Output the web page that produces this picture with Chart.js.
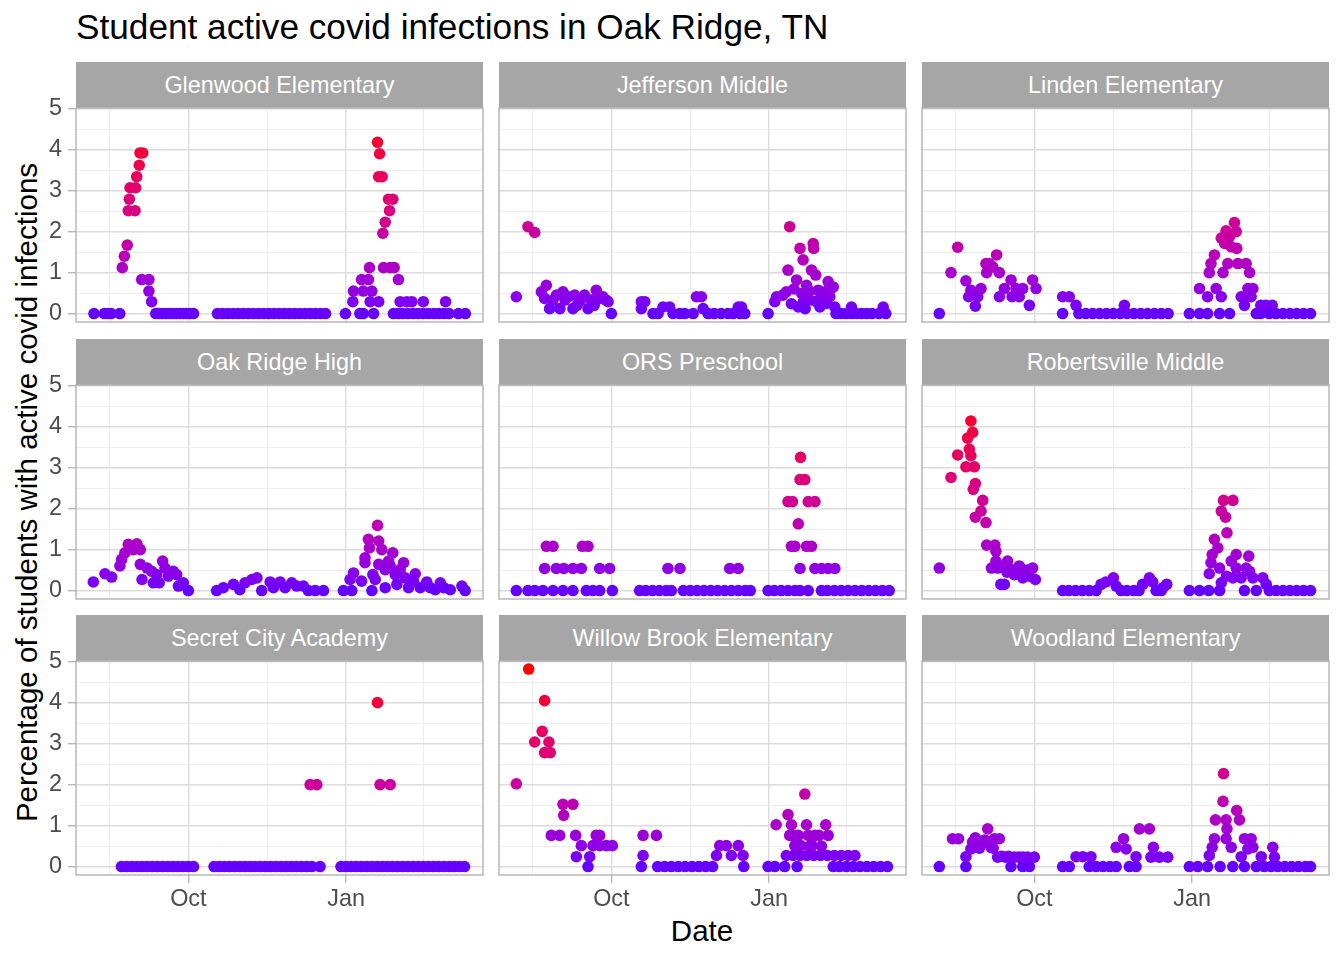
<!DOCTYPE html>
<html><head><meta charset="utf-8">
<script src="https://cdn.jsdelivr.net/npm/chart.js@4.4.1/dist/chart.umd.min.js"></script>
<style>
html,body{margin:0;padding:0;background:#fff;}
body{width:1344px;height:960px;position:relative;overflow:hidden;font-family:"Liberation Sans",Arial,Helvetica,sans-serif;}
.strip{position:absolute;background:#A6A6A6;color:#fff;font-size:23.4px;display:flex;align-items:center;justify-content:center;white-space:nowrap;}
canvas{position:absolute;}
#title{position:absolute;left:76px;top:9px;font-size:35.2px;line-height:35px;color:#000;white-space:nowrap;}
#xtitle{position:absolute;left:402px;width:600px;top:916px;font-size:29.5px;line-height:29px;text-align:center;color:#000;}
#ytitle{position:absolute;left:-324px;width:700px;top:478px;height:29px;font-size:29.5px;line-height:29px;text-align:center;color:#000;transform:rotate(-90deg);transform-origin:50% 50%;white-space:nowrap;}
</style></head><body>
<div id="title">Student active covid infections in Oak Ridge, TN</div>
<div id="xtitle">Date</div>
<div id="ytitle">Percentage of students with active covid infections</div>
<script>
// x values are days relative to 1 Oct 2021; y values are % of students with active infections
const schools = ["Glenwood Elementary","Jefferson Middle","Linden Elementary","Oak Ridge High","ORS Preschool","Robertsville Middle","Secret City Academy","Willow Brook Elementary","Woodland Elementary"];

const glenwood = [[-55,0],[-49,0],[-47,0],[-45,0],[-40,0],
[-38.5,1.12],[-37.3,1.40],[-35.6,1.67],[-35,2.51],[-31.1,2.51],[-34.4,2.79],[-34,3.07],[-30.7,3.07],[-30.1,3.34],[-28.6,3.62],[-28.2,3.92],[-26.6,3.92],
[-27.2,0.83],[-23,0.83],[-23,0.55],[-21.4,0.29],
[-19,0],[-17,0],[-15,0],[-13,0],[-11,0],[-9,0],[-7,0],[-5,0],[-3,0],[-1,0],[1,0],[3,0],
[17,0],[20,0],[23,0],[26,0],[29,0],[32,0],[35,0],[38,0],[41,0],[44,0],[47,0],[50,0],[53,0],[56,0],[59,0],[62,0],[65,0],[68,0],[71,0],[74,0],[77,0],[80,0],
[91.6,0],[95.9,0.29],[96.3,0.55],[100,0],[102,0],[101,0.83],[105,0.83],[102,0.55],[107,0.55],[105.6,1.12],[106,0.29],[111,0.29],[108,0],
[110.3,4.18],[111.5,3.90],[111,3.34],[113,3.34],[113.4,1.96],[114.8,2.23],[117.3,2.51],[116.7,2.79],[119.2,2.79],
[113.8,1.12],[117.7,1.12],[120,1.12],[122.5,0.83],[119.6,0],[122.5,0],[123.5,0.29],[127.4,0.29],[130.3,0.29],
[125,0],[128,0],[131,0],[134,0],[137,0],[140,0],[143,0],[146,0],[149,0],[152,0],[137,0.29],[150,0.29],[157.5,0],[161.5,0]];

const jefferson = [[-55.4,0.41],[-48.6,2.12],[-44.7,1.98],
[-40.8,0.53],[-37.9,0.69],[-38.9,0.37],[-36,0.12],[-34,0.33],[-32,0.45],[-30,0.12],[-28.2,0.53],[-27,0.33],[-25,0.41],[-22.4,0.12],[-21.4,0.45],[-20,0.2],[-18,0.33],[-15.6,0.45],[-13.6,0.12],[-11.7,0.33],[-10,0.2],[-8.8,0.57],[-6.8,0.37],[-4.9,0.41],[-3,0.33],[-1.9,0.29],[0,0],
[17.5,0.29],[19.5,0.29],[17.5,0.12],[24.3,0],[27.2,0],[30.1,0.16],[34,0.16],[36,0],[39.9,0],[42.8,0],[47.7,0],[49.6,0.41],[52.5,0.41],[53.5,0.12],[56.4,0],[60,0],[64,0],[68,0],[71,0],[74,0.16],[75.9,0.16],[75,0],[77.8,0],
[91.4,0],[95.3,0.29],[96.3,0.41],[100,0.45],[102,0.53],[103,1.06],[104,2.12],[105,0.24],[106.5,0.6],[108,0.82],[109,0.16],[110,1.59],[111.8,1.31],[111,0.49],[112,0.3],[113.8,0.69],[114.8,0.33],[113,0.12],[115.5,0.55],[116.7,1.06],[117.7,1.71],[118,1.59],[119,0.3],[119.2,0.94],[120.6,0.57],[121.6,0.16],[122.5,0.45],[123.5,0.33],[124.5,0.53],[125.5,0.25],[126.4,0.78],[127.4,0.41],[128,0.6],[129.4,0.65],[130.3,0.16],
[131,0],[134,0],[137,0],[140,0],[143,0],[146,0],[149,0],[152,0],[156,0],[160,0],[140,0.16],[158.5,0.16]];

const linden = [[-55.4,0],[-48.6,1.0],[-44.7,1.62],[-39.9,0.80],[-38.3,0.41],[-37,0.57],[-34.4,0.18],[-33,0.41],[-31.1,0.61],[-28.2,1.22],[-27.8,1.0],[-26.3,1.22],[-24.3,1.14],[-22,1.43],[-20.4,1.0],[-20.4,0.41],[-17.5,0.61],[-13.6,0.82],[-13,0.41],[-10.7,0.61],[-8.8,0.41],[-6.8,0.61],[-2.9,0.20],[-1,0.82],[1,0.61],
[16.5,0.41],[20.4,0.41],[16.5,0],[24.3,0.20],
[26,0],[30,0],[34,0],[38,0],[42,0],[46,0],[50,0],[54,0],[58,0],[62,0],[66,0],[70,0],[74,0],[78,0],[52.5,0.20],
[90.4,0],[96.3,0],[101,0],[96.3,0.61],[101,0.41],[102,1.0],[103,1.22],[105,1.43],[106,0.61],[108,0],[113.8,0],[109,0.41],[109,1.84],[110,1.0],[111,1.71],[111.8,2.02],[112.8,1.22],[113.8,1.88],[114.8,1.63],[116.7,2.22],[117.7,2.0],[118,1.59],[118.7,1.22],[120.6,0.41],[122.5,0.20],[123.5,1.22],[124.5,0.61],[125.5,1.0],[126.4,0.41],[127.4,0.61],[129.4,0],[132,0],[132,0.2],[135,0.2],[138.7,0.2],
[137,0],[141,0],[145,0],[149,0],[153,0],[157,0],[161,0]];

const oakRidgeHigh = [[-55.4,0.21],[-48.6,0.41],[-44.7,0.33],[-39.9,0.6],[-38.9,0.76],[-37,0.92],[-35,1.13],[-32,1.0],[-30,1.14],[-28,1.0],[-28,0.64],[-27,0.27],[-24,0.55],[-21.4,0.47],[-20.4,0.19],[-18.5,0.39],[-17,0.19],[-15,0.72],[-13.6,0.55],[-11.7,0.35],[-8.8,0.47],[-6.8,0.39],[-5.8,0.11],[-2.9,0.19],[0,0],
[16.5,0],[20.4,0.07],[26.3,0.15],[30,0.02],[33,0.19],[37,0.27],[40,0.31],[42.8,0],[47.7,0.21],[49.6,0.07],[53.5,0.21],[56.4,0.07],[60.3,0.19],[63.2,0.11],[67.1,0.11],[70,0],[74,0],[78.8,0],
[90.4,0],[95.3,0],[94.3,0.27],[96.3,0.43],[101,0.23],[103,0.8],[103,0.68],[105,1.25],[105.6,1.04],[107,0],[107.6,0.39],[109,0.27],[110.3,1.59],[111,1.21],[111,0.64],[112.8,1.0],[114.8,0.51],[114.8,0.07],[116.7,0.72],[117.7,0.6],[119.2,0.92],[120.6,0.39],[121.6,0.15],[123.5,0.51],[125.5,0.68],[126.4,0.31],[128.4,0.07],[132.3,0.41],[131.3,0.23],[135.2,0.07],[139,0.21],[141,0.07],[144,0.02],[146.9,0.19],[149,0.07],[152.7,0.02],[159.5,0.11],[161.4,0]];

const orsPreschool = [[-55.4,0],[-48.6,0],[-44.7,0],[-39.9,0],[-34,0],[-28.2,0],[-22.4,0],[-14.6,0],[-10.7,0],[-6.8,0],[0.6,0],
[-38.9,0.54],[-32.1,0.54],[-27.8,0.54],[-22.4,0.54],[-17.5,0.54],[-6.8,0.54],[-1,0.54],
[-37.9,1.08],[-34,1.08],[-16.9,1.08],[-13.6,1.08],
[16.5,0],[20,0],[24,0],[28,0],[32,0],[35,0],[33,0.54],[40,0.54],
[42,0],[46,0],[50,0],[54,0],[58,0],[62,0],[66,0],[70,0],[74,0],[78,0],[81,0],[69,0.54],[74,0.54],
[91.4,0],[95,0],[99,0],[103,0],[107,0],[110,0],[110,0.54],
[105,1.08],[107,1.08],[113.8,1.08],[116.7,1.08],[109,1.63],[103,2.17],[105.6,2.17],[114.8,2.17],[118.7,2.17],[110,2.71],[112.8,2.71],[110.3,3.25],
[114.8,0],[122.5,0],[126,0],[130,0],[134,0],[138,0],[142,0],[146,0],[150,0],[154,0],[158,0],[162,0],
[118.7,0.54],[122.5,0.54],[126.4,0.54],[130.3,0.54]];

const robertsville = [[-55.4,0.55],[-48.6,2.76],[-44.7,3.31],[-39.9,3.02],[-38.9,3.72],[-37,4.14],[-36,3.86],[-37.9,3.45],[-37,3.29],[-35,3.02],[-34.4,2.61],[-35.6,2.47],[-30.1,2.2],[-31.1,1.94],[-34.4,1.79],[-28.2,1.66],[-27.8,1.11],[-23,1.11],[-22.4,0.96],[-22.4,0.72],[-21.4,0.55],[-25,0.55],[-20,0.6],[-19.5,0.15],[-17.5,0.15],[-16,0.45],[-15.6,0.72],[-13.6,0.51],[-11.7,0.39],[-10,0.5],[-8.8,0.6],[-6.8,0.31],[-6.8,0.51],[-4,0.5],[-3,0.35],[-1,0.55],[0.6,0.27],
[16.5,0],[20,0],[24,0],[28,0],[32,0],[36,0],[38.9,0.15],[41.8,0.21],[46.1,0.31],[47.7,0.11],[50.6,0],[54,0],[58,0],[61,0],[63.2,0.15],[67.1,0.31],[69,0.21],[71,0],[74,0],[75,0.07],[77.2,0.15],
[90.4,0],[96.3,0],[101.7,0],[102,0.41],[103,0.68],[103.7,0.88],[105,1.25],[107,1.04],[108,0.55],[108,0],[109,0.19],[109,1.94],[110.3,2.2],[111.5,1.79],[112.3,1.41],[112,0.35],[115.8,2.2],[114.8,0.72],[115.8,0.31],[117.7,0.88],[117.7,0.55],[120.6,0.31],[122.5,0],[123.5,0.55],[125,0.84],[125.5,0.47],[127.4,0.31],[129.4,0],[133.2,0.31],[135.2,0.15],
[137,0],[141,0],[145,0],[149,0],[153,0],[157,0],[161,0]];

const secretCity = [[-39,0],[-36,0],[-33,0],[-30,0],[-27,0],[-24,0],[-21,0],[-18,0],[-15,0],[-12,0],[-9,0],[-6,0],[-3,0],[0,0],[3,0],
[15,0],[18,0],[21,0],[24,0],[27,0],[30,0],[33,0],[36,0],[39,0],[42,0],[45,0],[48,0],[51,0],[54,0],[57,0],[60,0],[63,0],[66,0],[69,0],[72,0],[76.8,0],
[71,2],[74.9,2],
[89,0],[92,0],[95,0],[98,0],[101,0],[104,0],[107,0],[110,0],[113,0],[116,0],[119,0],[122,0],[125,0],[128,0],[131,0],[134,0],[137,0],[140,0],[143,0],[146,0],[149,0],[152,0],[155,0],[158,0],[161,0],
[110.3,4],[111.8,2],[117.7,2]];

const willowBrook = [[-55.4,2.02],[-48.2,4.82],[-38.9,4.05],[-40.3,3.30],[-44.7,3.04],[-36.4,3.04],[-38.9,2.78],[-35.6,2.78],[-28.2,1.52],[-22.4,1.52],[-27.8,1.25],[-35,0.76],[-30.1,0.76],[-20.8,0.76],[-17.5,0.51],[-20.4,0.24],[-13.6,0],[-12.6,0.24],[-10.7,0.51],[-8.8,0.76],[-6.8,0.76],[-6.8,0.51],[-2.9,0.51],[0.6,0.51],
[18.5,0.76],[26.3,0.76],[18.5,0.27],[17.5,0],
[27,0],[31,0],[35,0],[39,0],[43,0],[47,0],[51,0],[55,0],[59,0],[61.3,0.27],[63.2,0.51],[67.1,0.51],[74,0.51],[70,0.27],[76.8,0.27],[77.2,0],
[91.4,0],[95.3,0],[101,0],[96.1,1.02],[103,1.27],[105,1.02],[104,0.76],[102,0.27],[106,0.27],[110,0.27],[114,0.27],[118,0.27],[122,0.27],[126,0.27],[130,0.27],[134,0.27],[138,0.27],[142,0.27],[106,0.76],[107,0.51],[108.3,0],[109,0.76],[110.5,0.51],[112.8,1.77],[113.8,1.02],[114.8,0.76],[115.7,0.5],[117,0.51],[118.7,0.76],[121,0.76],[122.5,0.5],[125,1.02],[126.4,0.76],[129.4,0],
[133,0],[137,0],[141,0],[145,0],[149,0],[153,0],[157,0],[161,0]];

const woodland = [[-55.4,0],[-47.7,0.68],[-44.2,0.68],[-39.9,0],[-39.9,0.24],[-37,0.43],[-36,0.6],[-34.4,0.7],[-33,0.47],[-32,0.45],[-30.1,0.6],[-29,0.65],[-27.2,0.92],[-26,0.6],[-25.3,0.47],[-24,0.45],[-23.3,0.68],[-20.4,0.68],[-21.4,0.23],[-19,0.25],[-16.9,0.23],[-15,0.25],[-13.6,0],[-11.7,0.23],[-9,0.23],[-6.8,0],[-2.9,0],[-6.8,0.23],[-4,0.23],[0,0.23],
[16.5,0],[20.4,0],[24.3,0.24],[28.2,0.24],[33,0.24],[32,0],[36,0],[40,0],[44,0],[47.7,0],[47.7,0.47],[52,0.68],[53.5,0.43],[55.4,0],[59.3,0],[59.3,0.24],[61.3,0.92],[67.1,0.92],[69.4,0.47],[68,0.23],[72.9,0.23],[77.8,0.23],
[90.4,0],[95.3,0],[101,0],[102,0.27],[103.7,0.47],[105,0.68],[105.6,1.14],[108.3,0],[110,1.59],[110.3,2.27],[111.8,1.14],[112.3,0.92],[111.8,0.68],[114.8,0.47],[115.7,0],[118,1.37],[119.6,1.14],[120.6,0.24],[122.5,0.68],[124.5,0.43],[126.4,0.68],[127.4,0.47],[122.5,0],[129.4,0],[132.3,0.24],[139,0.47],[140,0.23],
[134,0],[138,0],[142,0],[146,0],[150,0],[154,0],[158,0],[161,0]];

const schoolData = [glenwood, jefferson, linden, oakRidgeHigh, orsPreschool, robertsville, secretCity, willowBrook, woodland];

const xTickDays = [-46, 0, 46, 92, 137];
const xTickLabels = ["", "Oct", "", "Jan", ""];
const yTickValues = [0,0.5,1,1.5,2,2.5,3,3.5,4,4.5,5];
const yTickLabels = ["0","","1","","2","","3","","4","","5"];

// ---- colour gradient (Lab interpolation like ggplot) ----
const LOW = [102,0,255], HIGH = [255,0,0];
function toLin(c){c/=255;return c<=0.04045?c/12.92:Math.pow((c+0.055)/1.055,2.4);}
function fromLin(c){c=c<=0.0031308?12.92*c:1.055*Math.pow(c,1/2.4)-0.055;return Math.round(Math.max(0,Math.min(1,c))*255);}
function rgb2lab(rgb){const [r,g,b]=rgb.map(toLin);
 const X=(0.4124564*r+0.3575761*g+0.1804375*b)/0.95047,Y=0.2126729*r+0.7151522*g+0.0721750*b,Z=(0.0193339*r+0.1191920*g+0.9503041*b)/1.08883;
 const f=t=>t>0.008856?Math.cbrt(t):7.787*t+16/116;
 const fx=f(X),fy=f(Y),fz=f(Z);return [116*fy-16,500*(fx-fy),200*(fy-fz)];}
function lab2rgb(lab){const [L,a,bb]=lab;const fy=(L+16)/116,fx=fy+a/500,fz=fy-bb/200;
 const fi=t=>{const t3=t*t*t;return t3>0.008856?t3:(t-16/116)/7.787;};
 const X=fi(fx)*0.95047,Y=fi(fy),Z=fi(fz)*1.08883;
 const r=3.2404542*X-1.5371385*Y-0.4985314*Z,g=-0.9692660*X+1.8760108*Y+0.0415560*Z,b=0.0556434*X-0.2040259*Y+1.0572252*Z;
 return [fromLin(r),fromLin(g),fromLin(b)];}
const lowLab=rgb2lab(LOW), highLab=rgb2lab(HIGH);
const colorMax = Math.max(...schoolData.flat().map(p=>p[1]));
function colorFor(v){const t=Math.max(0,Math.min(1,v/colorMax));const lab=lowLab.map((x,i)=>x+(highLab[i]-x)*t);const [r,g,b]=lab2rgb(lab);return `rgb(${r},${g},${b})`;}

const FONT = '"Liberation Sans", Arial, Helvetica, sans-serif';
const panelBorder = {id:'panelBorder', afterDatasetsDraw(chart){const {ctx, chartArea:a}=chart;ctx.save();ctx.strokeStyle='#B3B3B3';ctx.lineWidth=1.4;ctx.strokeRect(a.left,a.top,a.right-a.left,a.bottom-a.top);ctx.restore();}};

const plotLeft=[76,499,922], plotTop=[108,385,661];
const PW=407, PH=214, LW=70, BH=50, TP=16;

schools.forEach((name,i)=>{
  const col=i%3, row=Math.floor(i/3);
  const isLeft = col===0, isBottom = row===2;
  const strip=document.createElement('div');
  strip.className='strip';
  strip.style.left=plotLeft[col]+'px'; strip.style.top=(plotTop[row]-46)+'px';
  strip.style.width=PW+'px'; strip.style.height='46px';
  strip.textContent=name;
  document.body.appendChild(strip);

  const cv=document.createElement('canvas');
  cv.width=LW+PW+1; cv.height=TP+PH+BH;
  cv.style.left=(plotLeft[col]-LW)+'px'; cv.style.top=(plotTop[row]-TP)+'px';
  cv.style.width=cv.width+'px'; cv.style.height=cv.height+'px';
  document.body.appendChild(cv);

  const pts = schoolData[i].map(p=>({x:p[0],y:p[1]}));
  new Chart(cv.getContext('2d'),{
    type:'scatter',
    data:{datasets:[{data:pts, pointRadius:5.8, pointHoverRadius:5.8, pointBorderWidth:0, borderWidth:0,
      pointBackgroundColor: pts.map(p=>colorFor(p.y))}]},
    options:{
      responsive:false, animation:false, events:[],
      layout:{autoPadding:false, padding:{left:0,top:TP,right:1,bottom:0}},
      plugins:{legend:{display:false},tooltip:{enabled:false},title:{display:false}},
      scales:{
        x:{type:'linear',min:-65.5,max:171.8,bounds:'data',
          afterBuildTicks:s=>{s.ticks=xTickDays.map(v=>({value:v}));},
          afterFit:s=>{s.height=BH;s.paddingLeft=0;s.paddingRight=0;s.paddingTop=0;s.paddingBottom=0;},
          ticks:{display:isBottom,autoSkip:false,maxRotation:0,minRotation:0,padding:3,color:'#4D4D4D',font:{family:FONT,size:23.4},
            callback:(v,idx)=>xTickLabels[idx]},
          grid:{drawTicks:isBottom,tickLength:8,tickWidth:1.3,
            tickColor:c=>(c.tick&&xTickLabels[c.index]!=='')?'#B3B3B3':'rgba(0,0,0,0)',
            color:c=>(c.tick&&xTickLabels[c.index]!=='')?'#DCDCDC':'#EBEBEB',
            lineWidth:c=>(c.tick&&xTickLabels[c.index]!=='')?1.4:0.9},
          border:{display:false}},
        y:{type:'linear',min:-0.206,max:5.017,bounds:'data',
          afterBuildTicks:s=>{s.ticks=yTickValues.map(v=>({value:v}));},
          afterFit:s=>{s.width=LW;s.paddingTop=0;s.paddingBottom=0;s.paddingLeft=0;s.paddingRight=0;},
          ticks:{display:isLeft,autoSkip:false,padding:6,color:'#4D4D4D',font:{family:FONT,size:23.4},
            callback:(v,idx)=>yTickLabels[idx]},
          grid:{drawTicks:isLeft,tickLength:8,tickWidth:1.3,
            tickColor:c=>(c.tick&&Number.isInteger(c.tick.value))?'#B3B3B3':'rgba(0,0,0,0)',
            color:c=>(c.tick&&Number.isInteger(c.tick.value))?'#DCDCDC':'#EBEBEB',
            lineWidth:c=>(c.tick&&Number.isInteger(c.tick.value))?1.4:0.9},
          border:{display:false}}
      }
    },
    plugins:[panelBorder]
  });
});
</script>
</body></html>
